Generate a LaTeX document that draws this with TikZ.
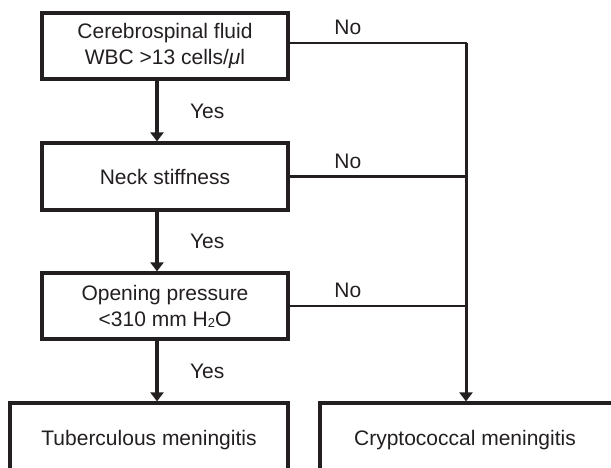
\documentclass[tikz,border=0pt]{standalone}
\usepackage{fontspec}
\setmainfont{Liberation Sans}
\usetikzlibrary{arrows.meta,calc}
\definecolor{ink}{RGB}{35,31,32}
\begin{document}
\begin{tikzpicture}[x=1pt,y=-1pt,
  txt/.style={font=\fontsize{21}{26}\selectfont, text=ink},
  stepbox/.style={txt, draw=ink, line width=3.2pt, minimum width=246pt, minimum height=66pt, align=center, inner sep=0pt},
  endbox/.style={txt, draw=ink, line width=3.2pt, inner sep=0pt},
  yesarrow/.style={draw=ink, line width=4pt, -{Triangle[width=13pt,length=9pt]}},
  noline/.style={draw=ink, line width=2.4pt, line cap=rect},
  vline/.style={draw=ink, line width=3pt, -{Triangle[width=13pt,length=9pt]}},
  lab/.style={txt, inner sep=0pt}]
\useasboundingbox (0,0) rectangle (611,468);
\clip (0,0) rectangle (611,468);
\node[stepbox] (b1) at (165,46) {Cerebrospinal fluid\\WBC {>}13 cells/\textit{μ}l};
\node[stepbox, minimum height=67pt] (b2) at (165,176.5) {Neck stiffness};
\node[stepbox] (b3) at (165,306) {Opening pressure\\{<}310 mm H\raisebox{-1pt}{\fontsize{13}{13}\selectfont 2}O};
\node[endbox, minimum width=278pt, minimum height=74pt] (tb) at (149,440) {Tuberculous meningitis};
\node[endbox, minimum width=320pt, minimum height=74pt] (crypt) at (480,440) {\hspace*{-30pt}Cryptococcal meningitis};
\coordinate (ax) at (157,0);
\coordinate (rtop) at (466,43);
\draw[yesarrow] (b1.south -| ax) -- node[lab, midway, anchor=west, xshift=31pt] {Yes} (b2.north -| ax);
\draw[yesarrow] (b2.south -| ax) -- node[lab, midway, anchor=west, xshift=31pt] {Yes} (b3.north -| ax);
\draw[yesarrow] (b3.south -| ax) -- node[lab, midway, anchor=west, xshift=31pt] {Yes} (tb.north -| ax);
\draw[noline] (b1.east |- rtop) -- node[lab, pos=0.33, above=7pt] {No} (rtop);
\draw[noline] (b2.east) -- node[lab, pos=0.33, above=7pt] {No} (b2.east -| rtop);
\draw[noline] (b3.east) -- node[lab, pos=0.33, above=7pt] {No} (b3.east -| rtop);
\draw[vline] (rtop) -- (crypt.north -| rtop);
\end{tikzpicture}
\end{document}
